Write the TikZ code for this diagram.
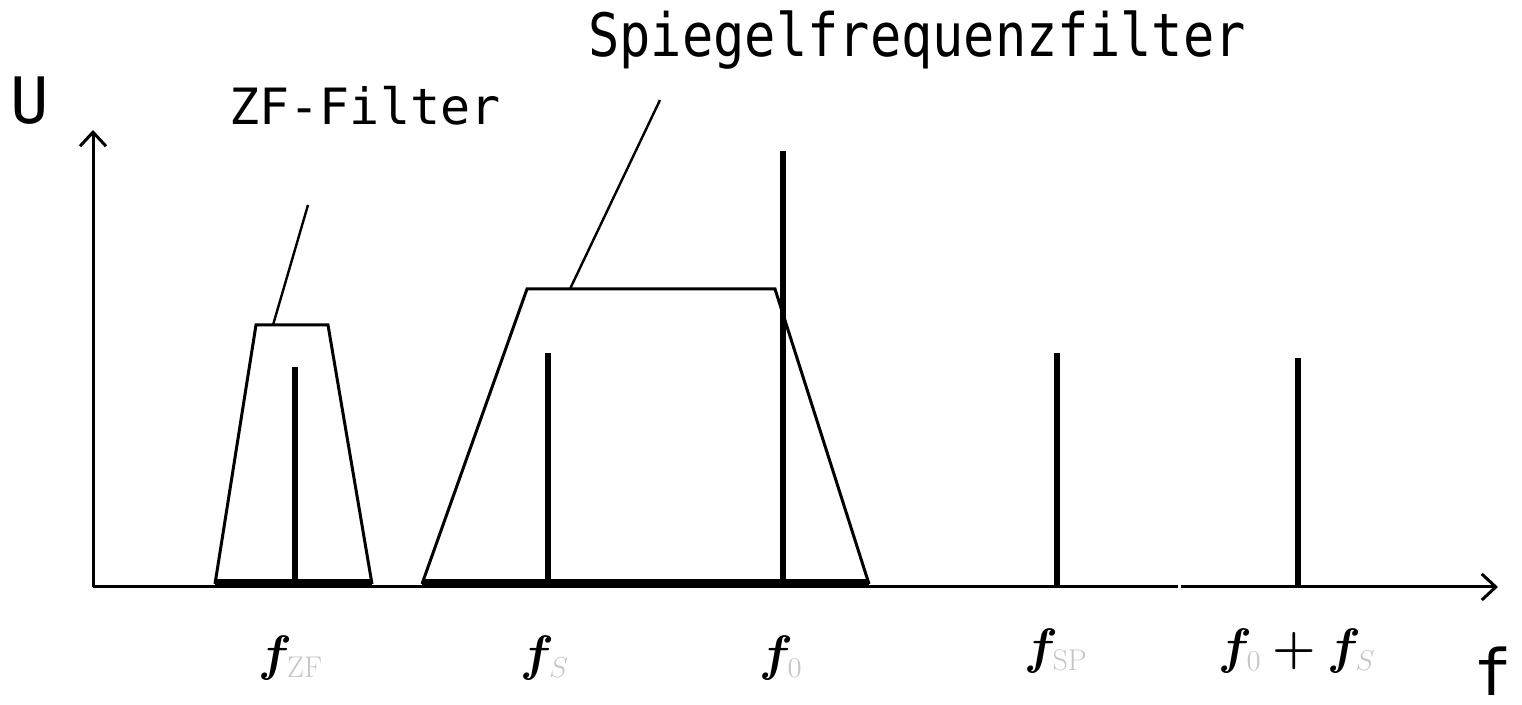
\documentclass[tikz,border=0pt]{standalone}
\usepackage{fontspec}
\newfontfamily\labelfont{DejaVu Sans Mono}
\usepackage{xcolor}
\usepackage{bm}
\usetikzlibrary{arrows.meta,positioning}
\tikzset{
    axis/.style={draw, line width=1.5pt},
    axis arrow/.style={axis, -{Straight Barb[length=7pt, width=13pt]}},
    spike/.style={draw, line width=3.2pt},
    filter edge/.style={draw, line width=1.5pt},
    filter base/.style={draw, line width=4.5pt},
    leader/.style={draw, line width=1.2pt},
}

\begin{document}
\begin{tikzpicture}[
  x=0.5pt, y=-0.5pt,
  caption/.style={font=\labelfont\fontsize{25}{25}\selectfont, inner sep=0pt, anchor=base},
  axis name/.style={font=\labelfont\fontsize{32}{32}\selectfont, inner sep=0pt, anchor=base},
  freq/.style={font=\fontsize{30}{30}\selectfont, inner sep=0pt, anchor=base}
]
\useasboundingbox (0,0) rectangle (1522,705);

% Axes
\coordinate (O) at (93,587);
\coordinate (Utip) at (93,130);
\coordinate (gapL) at (1178,587);
\coordinate (gapR) at (1181,587);
\coordinate (ftip) at (1498,587);
\draw[axis] (O) -- (gapL);
\draw[axis arrow] (gapR) -- (ftip);
\draw[axis arrow] (O) -- (Utip);
\node[axis name] (U) at (30,124) {U};
\node[axis name] (f) at (1493,696) {f};

% Filters
\coordinate (zfBL) at (215,584);
\coordinate (zfTL) at (256,325);
\coordinate (zfTR) at (328,325);
\coordinate (zfBR) at (372,584);
\draw[filter edge] (zfBL) -- (zfTL) -- (zfTR) -- (zfBR);
\draw[filter base] (zfBL) -- (zfBR);

\coordinate (spBL) at (422,584);
\coordinate (spTL) at (527,289);
\coordinate (spTR) at (775,289);
\coordinate (spBR) at (869,584);
\draw[filter edge] (spBL) -- (spTL) -- (spTR) -- (spBR);
\draw[filter base] (spBL) -- (spBR);

% Spectral lines
\coordinate (zfFoot) at (295,587);
\coordinate (zfTop) at (295,367);
\coordinate (sFoot) at (548,587);
\coordinate (sTop) at (548,353);
\coordinate (oFoot) at (783,587);
\coordinate (oTop) at (783,151);
\coordinate (spFoot) at (1057,587);
\coordinate (spTop) at (1057,353);
\coordinate (osFoot) at (1298,587);
\coordinate (osTop) at (1298,358);
\draw[spike] (zfFoot) -- (zfTop);
\draw[spike] (sFoot) -- (sTop);
\draw[spike] (oFoot) -- (oTop);
\draw[spike] (spFoot) -- (spTop);
\draw[spike] (osFoot) -- (osTop);

% Captions with leaders
\node[caption] (zfName) at (365,125) {ZF-Filter};
\node[caption] (spName) at (917,57) {\scalebox{1}[1.15]{\fontsize{26}{26}\selectfont Spiegelfrequenzfilter}};
\coordinate (zfLeadA) at (273,325);
\coordinate (zfLeadB) at (308,205);
\coordinate (spLeadA) at (570,289);
\coordinate (spLeadB) at (660,100);
\draw[leader] (zfLeadA) -- (zfLeadB);
\draw[leader] (spLeadA) -- (spLeadB);

% Frequency labels
\node[freq] (lZF) at (291,670) {$\bm{f}_{\scriptscriptstyle\color{gray!45}\mathrm{ZF}}$};
\node[freq] (lS) at (545,670) {$\bm{f}_{\scriptscriptstyle\color{gray!45}S}$};
\node[freq] (lO) at (781,670) {$\bm{f}_{\scriptscriptstyle\color{gray!45}0}$};
\node[freq] (lSP) at (1056,663) {$\bm{f}_{\scriptscriptstyle\color{gray!45}\mathrm{SP}}$};
\node[freq] (lOS) at (1297,663) {$\bm{f}_{\scriptscriptstyle\color{gray!45}0}\bm{+}\bm{f}_{\scriptscriptstyle\color{gray!45}S}$};

\end{tikzpicture}
\end{document}
